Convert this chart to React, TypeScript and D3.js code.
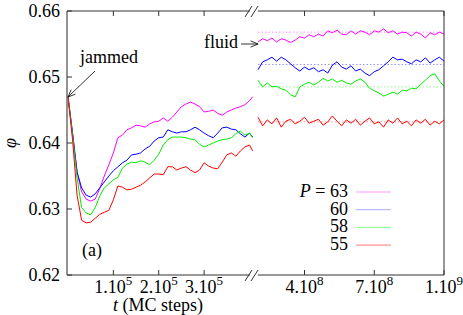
import React from 'react';
import * as d3 from 'd3';

// MC steps, early window (in units of 1e4) and late window (in units of 1e7)
const earlySteps = [0, 1, 2, 3, 4, 5, 6, 7, 8, 9, 10, 11, 12, 13, 14, 15, 16, 17, 18, 19, 20,
  21, 22, 23, 24, 25, 26, 27, 28, 29, 30, 31, 32, 33, 34, 35, 36, 37, 38, 39, 40, 40.7];
const lateSteps = [20, 22, 24, 26, 28, 30, 32, 34, 36, 38, 40, 42, 44, 46, 48, 50, 52, 54, 56, 58, 60,
  62, 64, 66, 68, 70, 72, 74, 76, 78, 80, 82, 84, 86, 88, 90, 92, 94, 96, 98, 100];

const pressures = [63, 60, 58, 55];

const early63 = [0.6470, 0.6415, 0.6356, 0.6326, 0.6315, 0.6312, 0.6315, 0.6331, 0.6350, 0.6367,
  0.6385, 0.6408, 0.6412, 0.6420, 0.6423, 0.6427, 0.6426, 0.6424, 0.6429, 0.6432,
  0.6433, 0.6438, 0.6433, 0.6439, 0.6447, 0.6455, 0.6459, 0.6462, 0.6459, 0.6455,
  0.6447, 0.6448, 0.6450, 0.6445, 0.6442, 0.6447, 0.6450, 0.6453, 0.6455, 0.6458,
  0.6464, 0.6470];
const early60 = [0.6470, 0.6415, 0.6356, 0.6332, 0.6321, 0.6318, 0.6323, 0.6332, 0.6341, 0.6350,
  0.6358, 0.6364, 0.6370, 0.6374, 0.6382, 0.6383, 0.6385, 0.6391, 0.6395, 0.6403,
  0.6408, 0.6409, 0.6420, 0.6417, 0.6415, 0.6417, 0.6417, 0.6420, 0.6424, 0.6420,
  0.6415, 0.6411, 0.6408, 0.6415, 0.6423, 0.6424, 0.6421, 0.6420, 0.6414, 0.6409,
  0.6415, 0.6409];
const early58 = [0.6470, 0.6412, 0.6347, 0.6302, 0.6294, 0.6291, 0.6302, 0.6320, 0.6332, 0.6338,
  0.6344, 0.6348, 0.6362, 0.6368, 0.6371, 0.6370, 0.6373, 0.6371, 0.6367, 0.6374,
  0.6383, 0.6397, 0.6405, 0.6409, 0.6409, 0.6409, 0.6408, 0.6406, 0.6405, 0.6398,
  0.6394, 0.6397, 0.6400, 0.6403, 0.6405, 0.6406, 0.6408, 0.6414, 0.6418, 0.6412,
  0.6415, 0.6408];
const early55 = [0.6470, 0.6405, 0.6321, 0.6283, 0.6279, 0.6280, 0.6286, 0.6292, 0.6295, 0.6298,
  0.6314, 0.6335, 0.6333, 0.6329, 0.6330, 0.6333, 0.6336, 0.6341, 0.6347, 0.6353,
  0.6353, 0.6352, 0.6364, 0.6364, 0.6359, 0.6362, 0.6364, 0.6359, 0.6355, 0.6359,
  0.6370, 0.6365, 0.6362, 0.6361, 0.6371, 0.6382, 0.6385, 0.6380, 0.6388, 0.6394,
  0.6397, 0.6388];

const late63 = [0.6553, 0.6558, 0.6555, 0.6559, 0.6553, 0.6558, 0.6556, 0.6552, 0.6556, 0.6561,
  0.6559, 0.6564, 0.6561, 0.6565, 0.6562, 0.6570, 0.6567, 0.6571, 0.6565, 0.6564,
  0.6570, 0.6565, 0.6570, 0.6568, 0.6564, 0.6570, 0.6568, 0.6573, 0.6567, 0.6570,
  0.6565, 0.6568, 0.6567, 0.6562, 0.6568, 0.6565, 0.6559, 0.6567, 0.6564, 0.6568, 0.6565];
const late60 = [0.6511, 0.6523, 0.6526, 0.6530, 0.6524, 0.6530, 0.6526, 0.6520, 0.6514, 0.6509,
  0.6515, 0.6511, 0.6514, 0.6508, 0.6511, 0.6506, 0.6518, 0.6523, 0.6515, 0.6512,
  0.6517, 0.6509, 0.6512, 0.6506, 0.6502, 0.6508, 0.6511, 0.6517, 0.6523, 0.6530,
  0.6526, 0.6527, 0.6523, 0.6520, 0.6526, 0.6523, 0.6529, 0.6521, 0.6526, 0.6530, 0.6524];
const late58 = [0.6495, 0.6485, 0.6491, 0.6485, 0.6486, 0.6482, 0.6480, 0.6473, 0.6470, 0.6485,
  0.6489, 0.6492, 0.6488, 0.6492, 0.6498, 0.6494, 0.6497, 0.6492, 0.6495, 0.6491,
  0.6489, 0.6494, 0.6497, 0.6492, 0.6483, 0.6479, 0.6476, 0.6471, 0.6474, 0.6477,
  0.6474, 0.6480, 0.6479, 0.6483, 0.6482, 0.6489, 0.6495, 0.6502, 0.6505, 0.6494, 0.6486];
const late55 = [0.6439, 0.6426, 0.6435, 0.6429, 0.6438, 0.6424, 0.6433, 0.6436, 0.6429, 0.6433,
  0.6439, 0.6430, 0.6433, 0.6436, 0.6427, 0.6432, 0.6441, 0.6433, 0.6426, 0.6435,
  0.6430, 0.6436, 0.6427, 0.6433, 0.6438, 0.6429, 0.6432, 0.6424, 0.6435, 0.6430,
  0.6438, 0.6429, 0.6433, 0.6426, 0.6435, 0.6430, 0.6436, 0.6427, 0.6433, 0.6429, 0.6435];

// long-time averages (dotted lines)
const plateaus = [0.6568, 0.6519, 0.6485, 0.6432];

const yTicks = [0.62, 0.63, 0.64, 0.65, 0.66];
const earlyTicks = [1e5, 2e5, 3e5];
const lateTicks = [4e8, 7e8, 1e9];

const earlySeries = [early63, early60, early58, early55];
const lateSeries = [late63, late60, late58, late55];
const colors = ['#ff00ff', '#0000ff', '#00ee00', '#ff0000'];
const legendColors = ['#ff99ff', '#aaaaff', '#88ff88', '#ff7777'];

const serif = { fontFamily: 'Liberation Serif' };
const FS = 18;

const y = d3.scaleLinear().domain([0.62, 0.66]).range([275, 11]);
const xEarly = d3.scaleLinear().domain([0, 4.1e5]).range([68, 254]);
const xLate = d3.scaleLinear().domain([2e8, 1e9]).range([258, 444]);
const left = 67, breakL = 250, breakR = 258, right = 444;

const sci = (v: number) => {
  const e = Math.floor(Math.log10(v) + 1e-9);
  return { m: Math.round(v / Math.pow(10, e)), e };
};

const arrowHead = (x0: number, y0: number, x1: number, y1: number) => {
  const a = Math.atan2(y1 - y0, x1 - x0);
  const L = 8, s = 0.4;
  return `M${x1 - L * Math.cos(a - s)},${y1 - L * Math.sin(a - s)}L${x1},${y1}L${x1 - L * Math.cos(a + s)},${y1 - L * Math.sin(a + s)}`;
};

export default function App() {
  const earlyLine = d3.line<number>().x((_, i) => xEarly(earlySteps[i] * 1e4)).y(d => y(d));
  const lateLine = d3.line<number>().x((_, i) => xLate(lateSteps[i] * 1e7)).y(d => y(d));

  const frame = '#333';
  return (
    <svg width={463} height={315} style={{ position: 'fixed', left: 0, top: 0 }}>
      <rect width={463} height={315} fill="#fff" />
      {/* data */}
      {earlySeries.map((s, i) => (
        <path key={'e' + i} d={earlyLine(s) || ''} fill="none" stroke={colors[i]} strokeWidth={1} />
      ))}
      {plateaus.map((p, i) => (
        <line key={'p' + i} x1={breakR} x2={right} y1={y(p)} y2={y(p)} stroke={colors[i]}
          strokeWidth={0.7} strokeDasharray="1.5 2" opacity={0.6} />
      ))}
      {lateSeries.map((s, i) => (
        <path key={'l' + i} d={lateLine(s) || ''} fill="none" stroke={colors[i]} strokeWidth={1} />
      ))}

      {/* frame */}
      <g stroke={frame} strokeWidth={1} fill="none">
        <line x1={left} x2={breakL} y1={11} y2={11} />
        <line x1={breakR} x2={right} y1={11} y2={11} />
        <line x1={left} x2={breakL} y1={275} y2={275} />
        <line x1={breakR} x2={right} y1={275} y2={275} />
        <line x1={right} x2={right} y1={11} y2={275} />
        <line x1={left} x2={left} y1={11} y2={275} stroke="#777" strokeWidth={1.6} />
        {[11, 275].map(by => (
          <g key={by}>
            <line x1={245} y1={by + 6} x2={252} y2={by - 5} />
            <line x1={251} y1={by + 6} x2={258} y2={by - 5} />
          </g>
        ))}
      </g>

      {/* y ticks */}
      {yTicks.map(t => (
        <g key={t}>
          <line x1={left} x2={left + 5} y1={y(t)} y2={y(t)} stroke={frame} />
          <text x={60} y={y(t) + 6} textAnchor="end" fontSize={FS} style={serif}>{t.toFixed(2)}</text>
        </g>
      ))}

      {/* x ticks */}
      {[...earlyTicks.map(t => xEarly(t)), ...lateTicks.map(t => xLate(t))].map((px, i) => {
        const v = i < earlyTicks.length ? earlyTicks[i] : lateTicks[i - earlyTicks.length];
        const { m, e } = sci(v);
        return (
          <g key={i}>
            <line x1={px} x2={px} y1={275} y2={270} stroke={frame} />
            <line x1={px} x2={px} y1={11} y2={16} stroke={frame} />
            <text x={px} y={293} textAnchor="middle" fontSize={FS} style={serif}>
              {m}.10<tspan dy={-8} fontSize={13}>{e}</tspan>
            </text>
          </g>
        );
      })}

      {/* axis titles */}
      <text x={158} y={311} textAnchor="middle" fontSize={FS} style={serif}>
        <tspan fontStyle="italic">t</tspan> (MC steps)
      </text>
      <text transform="translate(16,143) rotate(-90)" textAnchor="middle" fontStyle="italic"
        fontSize={FS} style={serif}>φ</text>

      {/* annotations */}
      <text x={80} y={63} fontSize={FS} style={serif}>jammed</text>
      <line x1={95} y1={71} x2={68} y2={97} stroke="#000" strokeWidth={0.8} />
      <path d={arrowHead(95, 71, 68, 97)} fill="none" stroke="#000" strokeWidth={0.8} />
      <text x={204} y={48} fontSize={FS} style={serif}>fluid</text>
      <line x1={241} y1={44} x2={258} y2={44} stroke="#000" strokeWidth={0.8} />
      <path d={arrowHead(241, 44, 258, 44)} fill="none" stroke="#000" strokeWidth={0.8} />
      <text x={82} y={256} fontSize={FS} style={serif}>(a)</text>

      {/* legend */}
      {pressures.map((p, i) => {
        const ly = 192 + i * 17.7;
        return (
          <g key={p}>
            <text x={348} y={ly + 5} textAnchor="end" fontSize={FS} style={serif}>
              {i === 0 ? <><tspan fontStyle="italic">P</tspan> = {p}</> : p}
            </text>
            <line x1={356} x2={391} y1={ly} y2={ly} stroke={legendColors[i]} strokeWidth={1} />
          </g>
        );
      })}
    </svg>
  );
}
